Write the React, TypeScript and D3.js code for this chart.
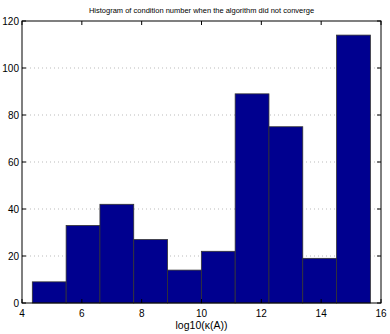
import React from "react";
import * as d3 from "d3";

const binStarts = [4.345, 5.475, 6.605, 7.735, 8.865, 9.995, 11.125, 12.255, 13.385, 14.515];
const binWidth = 1.13;
const counts = [9, 33, 42, 27, 14, 22, 89, 75, 19, 114];
const xTicks = [4, 6, 8, 10, 12, 14, 16];
const yTicks = [0, 20, 40, 60, 80, 100, 120];
const title = "Histogram of condition number when the algorithm did not converge";
const xLabel = "log10(κ(A))";

export default function App() {
  const W = 390, H = 334;
  const L = 22, R = 381, T = 21, B = 303;
  const x = d3.scaleLinear().domain([4, 16]).range([L, R]);
  const y = d3.scaleLinear().domain([0, 120]).range([B, T]);
  const font = "'Liberation Sans', Arial, Helvetica, sans-serif";
  const tl = 4;
  return (
    <svg width={W} height={H} style={{ position: "absolute", left: 0, top: 0, background: "#fff" }}>
      <rect x={0} y={0} width={W} height={H} fill="#fff" />
      {yTicks.slice(1, -1).map((t) => (
        <line key={"g" + t} x1={L} x2={R} y1={y(t)} y2={y(t)} stroke="#aaa" strokeWidth={0.8} strokeDasharray="1,3" />
      ))}
      {counts.map((c, i) => (
        <rect key={i} x={x(binStarts[i])} y={y(c)} width={x(binStarts[i] + binWidth) - x(binStarts[i])} height={B - y(c)} fill="#00008f" stroke="#333" strokeWidth={0.8} />
      ))}
      <rect x={L} y={T} width={R - L} height={B - T} fill="none" stroke="#000" strokeWidth={1} />
      {xTicks.map((t) => (
        <g key={"x" + t}>
          <line x1={x(t)} x2={x(t)} y1={B} y2={B - tl} stroke="#000" />
          <line x1={x(t)} x2={x(t)} y1={T} y2={T + tl} stroke="#000" />
          <text x={x(t)} y={B + 14} textAnchor="middle" fontSize={10} fontFamily={font}>{t}</text>
        </g>
      ))}
      {yTicks.map((t) => (
        <g key={"y" + t}>
          <line x1={L} x2={L + tl} y1={y(t)} y2={y(t)} stroke="#000" />
          <line x1={R} x2={R - tl} y1={y(t)} y2={y(t)} stroke="#000" />
          <text x={L - 3} y={y(t) + 3.5} textAnchor="end" fontSize={10} fontFamily={font}>{t}</text>
        </g>
      ))}
      <text x={(L + R) / 2} y={328.5} textAnchor="middle" fontSize={10.5} fontFamily={font}>{xLabel}</text>
      <text x={(L + R) / 2} y={13} textAnchor="middle" fontSize={7.5} fontFamily={font}>{title}</text>
    </svg>
  );
}
